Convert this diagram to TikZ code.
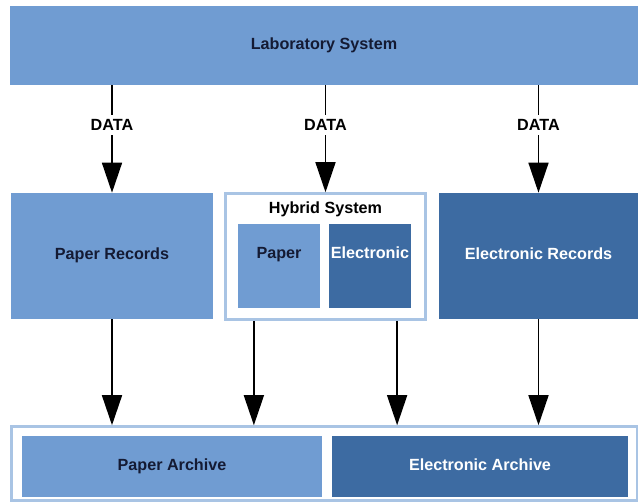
\documentclass[tikz,border=0pt]{standalone}
\usepackage{fontspec}
\setmainfont{Liberation Sans}
\usetikzlibrary{arrows.meta,positioning}
\definecolor{lightblue}{HTML}{709CD2}
\definecolor{darkblue}{HTML}{3D6BA2}
\definecolor{paleblue}{HTML}{A9C4E4}
\definecolor{inkblue}{HTML}{141A33}
\tikzset{
  box/.style={inner sep=0pt, font=\bfseries\fontsize{11.5}{13}\selectfont, align=center,
              text height=0.75em, text depth=0.2em},
  lightbox/.style={box, fill=lightblue, text=inkblue},
  darkbox/.style={box, fill=darkblue, text=white},
  framebox/.style={box, fill=white, draw=paleblue, line width=1.8pt},
  boxtext/.style={font=\bfseries\fontsize{11.5}{13}\selectfont, inner sep=0pt,
                  text height=0.75em, text depth=0.2em},
  arr/.style={-{Triangle[length=0.75cm, width=0.5cm]}, line width=1.1pt},
  datalab/.style={font=\bfseries\fontsize{11.5}{13}\selectfont, fill=white, inner sep=3pt},
}
\begin{document}
\begin{tikzpicture}[x=0.025cm, y=-0.025cm]
  \useasboundingbox (0,0) rectangle (638,504);
  % top row
  \node[lightbox, minimum width=15.7cm, minimum height=1.975cm] (lab) at (324,45.5) {Laboratory System};
  % middle row
  \node[lightbox, minimum width=5.05cm, minimum height=3.15cm] (precs) at (112,256) {Paper Records};
  \node[framebox, minimum width=5cm, minimum height=3.15cm] (hybrid) at (325.5,256.5) {};
  \node[boxtext] (htitle) at (325.5,210) {Hybrid System};
  \node[lightbox, minimum width=2.05cm, minimum height=2.1cm] (hpaper) at (279,266) {};
  \node[darkbox, minimum width=2.05cm, minimum height=2.1cm] (helec) at (370,266) {};
  \node[boxtext, text=inkblue] at ([yshift=0.275cm]hpaper.center) {Paper};
  \node[boxtext, text=white] at ([yshift=0.275cm]helec.center) {Electronic};
  \node[darkbox, minimum width=4.975cm, minimum height=3.15cm] (erecs) at (538.5,256) {Electronic Records};
  % bottom row
  \node[framebox, minimum width=15.65cm, minimum height=1.85cm] (archive) at (324.5,463.5) {};
  \node[lightbox, minimum width=7.5cm, minimum height=1.525cm] (parch) at (172,466.5) {Paper Archive};
  \node[darkbox, minimum width=7.4cm, minimum height=1.525cm] (earch) at (480,466.5) {Electronic Archive};
  % data flow
  \foreach \dst in {precs, hybrid, erecs}
    \draw[arr] (\dst.north |- lab.south) -- node[datalab, pos=0.37] {DATA} (\dst.north);
  \draw[arr] (precs.south) -- (precs.south |- archive.north);
  \draw[arr] ([xshift=-1.79cm]hybrid.south) -- ([xshift=-1.79cm]hybrid.south |- archive.north);
  \draw[arr] ([xshift=1.79cm]hybrid.south) -- ([xshift=1.79cm]hybrid.south |- archive.north);
  \draw[arr] (erecs.south) -- (erecs.south |- archive.north);
\end{tikzpicture}
\end{document}
